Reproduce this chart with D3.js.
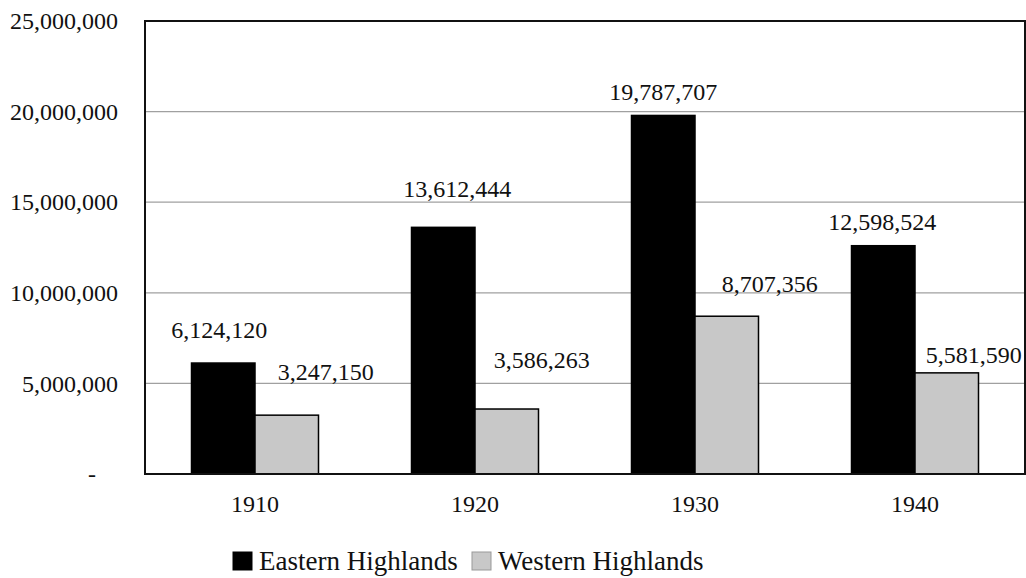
<!DOCTYPE html>
<html>
<head>
<meta charset="utf-8">
<script src="https://cdn.jsdelivr.net/npm/d3@7"></script>
<style>
  html, body { margin: 0; padding: 0; background: #fff; }
  svg text { font-family: "Liberation Serif", "Times New Roman", Times, "DejaVu Serif", serif !important; }
</style>
</head>
<body>
<svg id="chart" width="1026" height="578"></svg>
<script>
// ---- data ----
const years = ["1910", "1920", "1930", "1940"];
const seriesNames = ["Eastern Highlands", "Western Highlands"];
const eastern = [6124120, 13612444, 19787707, 12598524];
const western = [3247150, 3586263, 8707356, 5581590];
const yTicks = [0, 5000000, 10000000, 15000000, 20000000, 25000000];

// ---- label nudges (layout only): [dx, gap above bar top] ----
const easternNudge = [[-4, 25], [14, 30], [0, 15], [-1, 16]];
const westernNudge = [[39, 35], [35, 41], [43, 24], [27, 10]];

const colors = ["#000000", "#c8c8c8"];
const svg = d3.select("#chart");
const m = { left: 145, right: 1025, top: 21, bottom: 474 };

const x0 = d3.scaleBand().domain(years).range([m.left, m.right]).padding(0);
const groupW = 127;
const x1 = d3.scaleBand().domain(seriesNames).range([0, groupW]).padding(0);
const y = d3.scaleLinear().domain([0, 25000000]).range([m.bottom, m.top]);

// gridlines
svg.append("g").selectAll("line").data(yTicks.filter(d => d > 0 && d < 25000000)).join("line")
  .attr("x1", m.left).attr("x2", m.right)
  .attr("y1", d => y(d)).attr("y2", d => y(d))
  .attr("stroke", "#a0a0a0").attr("stroke-width", 1.2);

// y axis labels
const fmt = d3.format(",");
const yAxis = d3.axisLeft(y).tickValues(yTicks).tickSize(0).tickPadding(0)
  .tickFormat(d => d === 0 ? "-" : fmt(d));
const yg = svg.append("g").attr("transform", `translate(118,0)`).call(yAxis);
yg.attr("font-family", null);
yg.select(".domain").remove();
yg.selectAll("text").attr("font-size", 24).attr("fill", "#111")
  .attr("dy", "0.32em")
  .attr("dx", d => d === 0 ? -22 : 0);

// x axis labels
const xAxis = d3.axisBottom(x0).tickSize(0).tickPadding(0);
const xg = svg.append("g").attr("transform", `translate(0,${m.bottom})`).call(xAxis);
xg.attr("font-family", null);
xg.select(".domain").remove();
xg.selectAll("text").attr("font-size", 24).attr("fill", "#111")
  .attr("dy", 0).attr("y", 38);

// bars
const rows = years.map((yr, i) => ({ yr, i, vals: [eastern[i], western[i]] }));
const groups = svg.append("g").selectAll("g").data(rows).join("g")
  .attr("transform", d => `translate(${x0(d.yr) + x0.bandwidth() / 2 - groupW / 2},0)`);
groups.selectAll("rect").data(d => d.vals.map((v, s) => ({ v, s, i: d.i }))).join("rect")
  .attr("x", d => x1(seriesNames[d.s]))
  .attr("width", x1.bandwidth())
  .attr("y", d => y(d.v))
  .attr("height", d => y(0) - y(d.v))
  .attr("fill", d => colors[d.s])
  .attr("stroke", "#000").attr("stroke-width", 1.5);

// value labels
const nudges = [easternNudge, westernNudge];
groups.selectAll("text").data(d => d.vals.map((v, s) => ({ v, s, i: d.i }))).join("text")
  .attr("x", d => x1(seriesNames[d.s]) + x1.bandwidth() / 2 + nudges[d.s][d.i][0])
  .attr("y", d => y(d.v) - nudges[d.s][d.i][1])
  .attr("text-anchor", "middle")
  .attr("font-size", 24).attr("fill", "#111")
  .text(d => fmt(d.v));

// plot frame
svg.append("rect")
  .attr("x", m.left).attr("y", m.top)
  .attr("width", m.right - m.left).attr("height", m.bottom - m.top)
  .attr("fill", "none").attr("stroke", "#111").attr("stroke-width", 2);

// legend
const legendX = [233, 472];
const lg = svg.append("g").selectAll("g").data(seriesNames).join("g")
  .attr("transform", (d, i) => `translate(${legendX[i]},552)`);
lg.append("rect").attr("width", 19).attr("height", 18)
  .attr("fill", (d, i) => colors[i])
  .attr("stroke", (d, i) => i === 0 ? "#000" : "#999").attr("stroke-width", 1);
lg.append("text").attr("x", 26).attr("y", 18)
  .attr("font-size", 27).attr("fill", "#111").text(d => d);
</script>
</body>
</html>
